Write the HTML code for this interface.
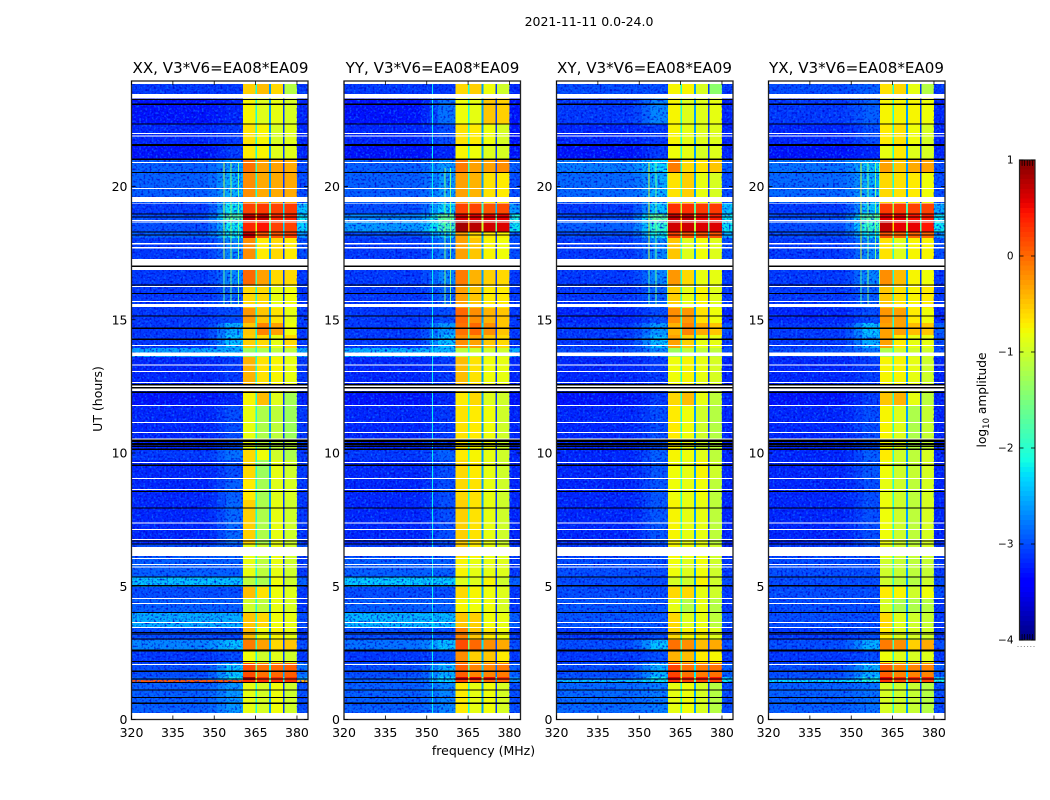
<!DOCTYPE html>
<html>
<head>
<meta charset="utf-8">
<title>2021-11-11 0.0-24.0</title>
<style>
html,body{margin:0;padding:0;background:#fff;width:1050px;height:800px;overflow:hidden}
svg{display:block}
text{font-family:"DejaVu Sans","Liberation Sans",sans-serif;fill:#000}
</style>
</head>
<body>
<svg id="figure" xmlns="http://www.w3.org/2000/svg" width="1050" height="800" viewBox="0 0 1050 800">
<defs>
<filter id="speckle-light" x="0" y="0" width="1" height="1" color-interpolation-filters="sRGB">
<feTurbulence type="fractalNoise" baseFrequency="0.48" numOctaves="1" seed="4"/>
<feColorMatrix type="matrix" values="0 0 0 0 0.05  0 0 0 0 0.45  0 0 0 0 1  3 0 0 0 -1.5"/>
</filter>
<filter id="speckle-dark" x="0" y="0" width="1" height="1" color-interpolation-filters="sRGB">
<feTurbulence type="fractalNoise" baseFrequency="0.48" numOctaves="1" seed="11"/>
<feColorMatrix type="matrix" values="0 0 0 0 0  0 0 0 0 0  0 0 0 0 0.8  3 0 0 0 -1.5"/>
</filter>
</defs>
<text x="589" y="26" font-size="12.5" text-anchor="middle">2021-11-11 0.0-24.0</text>
<text x="220.5" y="73" font-size="15.1" text-anchor="middle">XX, V3*V6=EA08*EA09</text>
<text x="432.5" y="73" font-size="15.1" text-anchor="middle">YY, V3*V6=EA08*EA09</text>
<text x="644.5" y="73" font-size="15.1" text-anchor="middle">XY, V3*V6=EA08*EA09</text>
<text x="856.5" y="73" font-size="15.1" text-anchor="middle">YX, V3*V6=EA08*EA09</text>
<text x="483.5" y="755" font-size="12.5" text-anchor="middle">frequency (MHz)</text>
<text transform="translate(102 399) rotate(-90)" font-size="12.5" text-anchor="middle">UT (hours)</text>
<text transform="translate(986 400) rotate(-90)" font-size="12.2" text-anchor="middle">log<tspan font-size="8.5" dy="3">10</tspan><tspan dy="-3"> amplitude</tspan></text>
<g id="panels"></g>
<g id="colorbar"></g>
</svg>
<script>
// Hour boundaries of the time blocks, top to bottom
const timeEdges = [23.85,23.31,22.35,21.56,21.0,20.54,19.38,18.97,18.74,18.29,18.07,16.87,16.30,15.44,14.88,14.43,13.94,13.60,12.29,11.76,10.53,10.11,9.74,8.99,8.24,6.59,6.10,5.35,4.97,4.56,4.00,3.43,2.98,2.61,2.12,1.59,1.48,1.41,0.24];

// Each row: log10 amplitude for [background, roll-on, window 1, window 2, window 3, window 4, upper edge]
const xxRows = [
[-3.1,-3.1,-.55,-.45,-.6,-1.15,-3.1],[-3.3,-3.2,-.75,-.9,-.85,-.95,-3.2],[-3.2,-3.1,-.65,-.75,-.95,-.9,-3.2],[-3.3,-3.1,-.7,-.75,-.9,-.9,-3.2],
[-2.9,-2.6,-.05,-.3,-.3,-.35,-3],[-2.9,-2.5,-.2,-.35,-.35,-.35,-3],[-3.1,-2.2,.2,.25,.2,.25,-2.4],[-3,-1.8,.7,.7,.35,.35,-2.2],
[-3,-2.2,.35,.45,.2,.2,-2.3],[-2.9,-2.2,.7,.1,.1,.2,-2.6],[-3.1,-2.7,-.2,-.7,-.6,-.7,-3],[-3.1,-2.7,0,-.3,-.6,-.6,-3.1],
[-3.1,-2.9,-.6,-.6,-.85,-.8,-3.1],[-3.1,-3,-.25,-.5,-.65,-.85,-3.1],[-3.1,-2.5,-.5,-.15,-.3,-.8,-3.1],[-3.1,-2.4,-.55,-.6,-.85,-.6,-3.1],
[-2.55,-2.5,-1.3,-1.2,-1.1,-1.1,-2.5],[-3.2,-3.1,-.4,-.65,-.75,-.85,-3.1],[-3.3,-3.2,-.75,-.45,-.9,-1.25,-3.2],[-3.2,-3,-.85,-1.2,-1.1,-1.3,-3.1],
[-3.2,-3,-.85,-1.1,-1.1,-1.1,-3.1],[-3.1,-2.8,-.6,-.8,-1,-1.2,-3.1],[-3.2,-3,-.6,-1.3,-.85,-1,-3.1],[-3.2,-2.9,-.7,-1.25,-.9,-.95,-3.1],
[-3.2,-2.85,-.55,-1.2,-.85,-1,-3.1],[-3,-2.9,-.85,-1,-.85,-1,-3],[-2.9,-2.9,-.85,-1.1,-.85,-1,-3.1],[-2.4,-2.4,-1.1,-1.2,-.8,-1,-2.9],
[-3,-3,-.45,-.65,-.8,-.9,-3.1],[-2.9,-2.9,-1,-1.1,-.85,-.95,-3.1],[-2.5,-2.5,-.5,-.6,-.8,-.85,-3],[-3,-3,-.45,-.8,-.75,-.85,-3.1],
[-2.7,-2.4,-.1,-.3,-.6,-.5,-3],[-3.1,-3,-.8,-1,-.9,-1,-3.1],[-3,-2.4,.15,-.05,0,.05,-2.8],[-2.9,-2.2,.8,.3,.3,.3,-2.5],
[.1,.1,.3,.3,.3,.3,-.4],[-2.9,-2.6,-.85,-.95,-.8,-1,-3]
];
const yyRows = [
[-3.1,-3.1,-.6,-.55,-.8,-1,-3.2],[-3.3,-2.8,-.8,-.85,-.5,-.55,-3.3],[-3.2,-3,-.65,-.7,-.8,-.95,-3.3],[-3.3,-3.2,-.75,-.8,-.9,-.95,-3.3],
[-2.9,-2.6,-.1,-.3,-.3,-.2,-2.9],[-2.9,-2.6,-.3,-.4,-.65,-.7,-3],[-3,-2.3,.2,.2,.1,.15,-2.6],[-2.7,-1.7,.6,.6,.55,.55,-2.1],
[-2.6,-1.9,.85,.75,.65,.6,-2.2],[-3,-2.4,-.3,-.6,-.7,-.75,-2.9],[-3.1,-2.8,-.3,-.5,-.75,-.8,-3],[-3.1,-2.7,-.1,-.4,-.55,-.6,-3.1],
[-3.1,-2.9,-.3,-.5,-.7,-.7,-3.1],[-3.1,-3,0,-.2,-.4,-.5,-3.1],[-3.1,-2.6,-.05,0,-.2,-.5,-3.1],[-3.1,-2.4,-.2,-.3,-.5,-.6,-3.1],
[-2.5,-2.45,-1.1,-1,-1,-1,-2.5],[-3.2,-3.1,-.45,-.65,-.8,-.85,-3.2],[-3.3,-3.2,-.7,-.6,-.9,-1,-3.3],[-3.2,-3.1,-.65,-.7,-.8,-1,-3.2],
[-3.2,-3.1,-.65,-.75,-.8,-1,-3.2],[-3.1,-2.9,-.7,-.75,-.85,-1,-3.2],[-3.2,-3,-.6,-.7,-.85,-1,-3.2],[-3.2,-3,-.6,-.65,-.85,-1,-3.2],
[-3.2,-3,-.55,-.65,-.85,-1,-3.2],[-3.1,-3,-.55,-.7,-.85,-.95,-3.1],[-2.9,-2.9,-.75,-.85,-.85,-.9,-3.1],[-2.35,-2.35,-.9,-.9,-.75,-1,-2.9],
[-3,-3,-.6,-.75,-.8,-.9,-3.1],[-2.9,-2.9,-.75,-.8,-.8,-.95,-3.1],[-2.45,-2.45,-.5,-.55,-.8,-.85,-2.9],[-3,-3,-.15,-.5,-.7,-.8,-3.1],
[-2.8,-2.4,.15,0,-.2,-.35,-3],[-3.1,-3,-.2,-.55,-.5,-.7,-3.1],[-3,-2.5,.05,-.15,-.15,-.1,-2.9],[-2.9,-2.3,.6,.55,.5,.3,-2.6],
[-2.9,-2.3,.2,.1,0,0,-2.6],[-2.9,-2.7,-.7,-.85,-.8,-.95,-3]
];
const xyRows = [
[-3,-3,-.75,-.75,-.95,-1.4,-3.1],[-3.1,-2.7,-.75,-.9,-.9,-.85,-3.2],[-3.2,-3.1,-.75,-.85,-.9,-.9,-3.2],[-3.3,-3.1,-.8,-.85,-.95,-.9,-3.2],
[-2.75,-2.3,-.1,-.6,-.65,-.5,-2.9],[-2.85,-2.5,-.65,-.55,-.85,-.95,-3],[-3.1,-2.4,.3,.3,.25,.25,-2.4],[-3,-1.7,.7,.7,.5,.4,-2.2],
[-2.9,-2,.65,.65,.6,.6,-2.2],[-3,-2.2,.2,.1,.1,.1,-2.5],[-3.1,-2.7,-.5,-.9,-.8,-.9,-3],[-3.1,-2.7,-.25,-.6,-.85,-.85,-3.1],
[-3.1,-2.9,-.55,-.85,-.75,-.9,-3.1],[-3.2,-3,-.2,-.25,-.65,-.8,-3.2],[-3.1,-2.6,-.4,-.15,-.35,-.5,-3],[-3.1,-2.4,-.3,-.55,-.85,-.85,-3.1],
[-3,-2.7,-1.3,-1.1,-1.1,-1.1,-3],[-3.2,-3.1,-.8,-.75,-.85,-.95,-3.2],[-3.3,-3.1,-.6,-.45,-.85,-1.1,-3.2],[-3.2,-3,-.7,-.8,-1,-1.15,-3.2],
[-3.2,-3,-.7,-.85,-1,-1.1,-3.2],[-3.2,-2.9,-.75,-.8,-.9,-1.1,-3.2],[-3.2,-2.95,-.8,-.85,-.75,-1,-3.2],[-3.2,-2.95,-.8,-.85,-.8,-1.1,-3.2],
[-3.2,-2.95,-.75,-.85,-.85,-1.1,-3.2],[-3.1,-3,-.75,-.8,-.85,-1,-3.2],[-3,-3,-.8,-.9,-.8,-1,-3.1],[-3,-3,-.95,-1,-.75,-1,-3],
[-3,-3,-.6,-.6,-.85,-1,-3.1],[-2.95,-2.95,-.85,-1.15,-.85,-1.15,-3.1],[-2.95,-2.95,-.6,-.9,-.85,-1.1,-3],[-3.1,-3,-.6,-.75,-.75,-.9,-3.1],
[-3,-2.4,-.05,-.2,-.45,-.35,-3],[-3.1,-3,-.4,-.45,-.7,-.75,-3.1],[-3,-2.5,.2,-.05,-.1,-.05,-2.9],[-2.9,-2.2,.6,.4,.45,.45,-2.3],
[-2.4,-2.2,.3,.2,.2,.2,-2.2],[-2.85,-2.75,-.85,-.8,-.95,-1.15,-3]
];
const yxRows = [
[-3,-2.9,-.65,-.6,-.85,-1.15,-3.1],[-3.1,-2.9,-.75,-.75,-.75,-.8,-3.2],[-3.2,-3,-.7,-.65,-.8,-.95,-3.2],[-3.3,-3.2,-.85,-.7,-.9,-.95,-3.2],
[-2.8,-2.4,-.3,-.5,-.35,-.3,-3],[-2.85,-2.5,-.6,-.65,-.7,-.8,-3],[-3.1,-2.4,.25,.25,.2,.2,-2.5],[-3,-1.8,.55,.55,.45,.4,-2.2],
[-3,-2,.7,.55,.55,.45,-2.2],[-3,-2.3,.1,0,0,0,-2.6],[-3.1,-2.7,-.65,-.9,-.75,-.75,-3],[-3.1,-2.7,-.2,-.45,-.75,-.8,-3.1],
[-3.1,-2.9,-.5,-.65,-.75,-.7,-3.1],[-3.2,-3,-.25,-.3,-.7,-.8,-3.2],[-3.1,-2.4,-.3,-.3,-.45,-.5,-2.9],[-3.1,-2.5,-.3,-.7,-.85,-.85,-3],
[-3,-2.8,-1.2,-1,-1,-1,-3],[-3.2,-3.1,-.75,-.75,-.85,-1,-3.2],[-3.3,-3.1,-.5,-.4,-.85,-1.1,-3.2],[-3.2,-3,-.75,-.9,-1.2,-1.05,-3.2],
[-3.2,-3,-.75,-.9,-1.15,-1.05,-3.2],[-3.2,-2.9,-.7,-1,-1.1,-.95,-3.2],[-3.2,-2.95,-.8,-1,-1.05,-.95,-3.2],[-3.2,-3,-.85,-1,-1.1,-.95,-3.2],
[-3.2,-3,-.8,-1,-1.1,-.95,-3.2],[-3.1,-3,-.85,-1,-1.05,-.95,-3.1],[-3,-3,-1,-1.05,-1.1,-1.05,-3.1],[-3,-3,-1,-1.1,-1.15,-1,-3],
[-3,-3,-.7,-.75,-1,-.8,-3],[-3,-3,-.95,-1.2,-1.2,-1.15,-3.1],[-3,-3,-.6,-.9,-1,-1.05,-3.1],[-3.1,-3,-.7,-.9,-.95,-1,-3.1],
[-3,-2.5,-.1,-.2,-.55,-.35,-3],[-3.1,-3,-.8,-.9,-.95,-.9,-3.1],[-3,-2.5,.05,-.15,-.15,-.15,-2.9],[-2.9,-2.2,.55,.35,.35,.4,-2.4],
[-2.3,-2.1,.3,.2,.2,.2,-2.1],[-2.9,-2.8,-.95,-1,-1.05,-1.15,-3]
];

// Frequency boundaries (MHz) of the columns in each row
const bandEdges = [320,354,360.4,365,370,375,380,384];
// Narrow channels between the spectral windows: [MHz, log10 amplitude]
const gapChannels = [[365,-2.1],[370,-2.6],[375,-3.1]];
// Time ranges (hours) with no data, drawn white
const maskedBands = [[24,23.85],[23.47,23.31],[22.0,21.97],[21.91,21.88],[20.92,20.88],[19.94,19.91],[19.61,19.41],[19.39,19.36],[18.74,18.71],[18.69,18.65],[17.88,17.83],[17.73,17.67],[17.28,17.02],[16.99,16.87],[16.27,16.23],[15.70,15.67],[15.59,15.48],[14.05,14.02],[13.77,13.64],[13.32,13.28],[13.08,13.04],[12.66,12.63],[12.53,12.47],[12.43,12.32],[11.80,11.76],[11.16,11.13],[10.79,10.75],[10.55,10.51],[9.66,9.62],[9.06,9.02],[8.65,8.61],[7.40,7.36],[7.15,7.11],[6.77,6.74],[6.48,6.14],[6.06,6.02],[5.83,5.80],[5.74,5.70],[4.56,4.52],[4.37,4.33],[3.66,3.62],[3.47,3.43],[2.08,2.04],[0.24,0]];
// Times (hours) of flagged integrations, drawn black
const flaggedTimes = [23.26,23.09,22.35,21.58,21.54,21.02,20.52,18.97,18.86,18.29,18.18,17.01,16.30,15.99,15.14,14.68,14.27,12.56,12.45,12.28,10.49,10.44,10.36,10.31,10.24,10.14,9.54,8.56,7.94,6.70,6.59,5.35,5.02,4.01,3.26,3.21,3.02,2.60,2.57,2.18,1.81,1.52,1.39,1.11,0.82,0.61];
// Narrow-band interference: [MHz, start hour, end hour, log10 amplitude]
const xxLines = [[353.3,20.9,17.28,-1.2],[355.9,20.9,17.28,-1.4],[358.6,20.9,15.48,-1.6],[353.3,16.87,15.48,-1.7],[355.9,16.87,15.48,-1.6]];
const yyLines = [[351.9,23.85,0.24,-2.2],[356.5,20.7,15.5,-1.5],[358.5,20.7,15.5,-1.5]];
const xyLines = [[353.3,20.9,17.28,-1],[355.9,20.9,17.28,-1.6],[360,20.9,15.48,-1.5],[353.3,16.87,15.48,-1.8],[355.9,16.87,15.48,-1.6]];
const yxLines = [[353.3,20.9,17.28,-1],[355.9,20.9,17.28,-1.5],[358.6,20.9,17.28,-1.5],[360,20.9,15.48,-1.4],[353.3,16.87,15.48,-1.8],[355.9,16.87,15.48,-1.5]];

// Axis ticks
const freqTicks = [320,335,350,365,380];
const hourTicks = [0,5,10,15,20];
const colorTicks = [1,0,-1,-2,-3,-4];
const colorLevels = [1,.95,.9,.85,.8,.75,.7,.65,.6,.55,.5,.45,.4,.35,.3,.25,.2,.15,.1,.05,0,-.05,-.1,-.15,-.2,-.25,-.3,-.35,-.4,-.45,-.5,-.55,-.6,-.65,-.7,-.75,-.8,-.85,-.9,-.95,-1,-1.05,-1.1,-1.15,-1.2,-1.25,-1.3,-1.35,-1.4,-1.45,-1.5,-1.55,-1.6,-1.65,-1.7,-1.75,-1.8,-1.85,-1.9,-1.95,-2,-2.05,-2.1,-2.15,-2.2,-2.25,-2.3,-2.35,-2.4,-2.45,-2.5,-2.55,-2.6,-2.65,-2.7,-2.75,-2.8,-2.85,-2.9,-2.95,-3,-3.05,-3.1,-3.15,-3.2,-3.25,-3.3,-3.35,-3.4,-3.45,-3.5,-3.55,-3.6,-3.65,-3.7,-3.75,-3.8,-3.85,-3.9,-3.95];

const NS = 'http://www.w3.org/2000/svg';
const panelSpecs = [
  {key:'xx', left:131.5, rows:xxRows, lines:xxLines},
  {key:'yy', left:344, rows:yyRows, lines:yyLines},
  {key:'xy', left:556.5, rows:xyRows, lines:xyLines},
  {key:'yx', left:768.5, rows:yxRows, lines:yxLines}
];
const panelWidth = 176.5;
const axisTop = 81;
const axisBottom = 719.5;
const FREQ_MIN = 320, FREQ_MAX = 384;

function hourY(h){ return axisBottom - h * 26.65; }
function freqX(left, f){ return left + (f - FREQ_MIN) * panelWidth / (FREQ_MAX - FREQ_MIN); }
function clamp01(v){ return Math.max(0, Math.min(1, v)); }
function jet(v){
  const t = clamp01((v + 4) / 5);
  let r, g, b;
  if (t < 0.35) r = 0; else if (t < 0.66) r = (t - 0.35) / 0.31; else if (t < 0.89) r = 1; else r = 1 - 0.5 * (t - 0.89) / 0.11;
  if (t < 0.125) g = 0; else if (t < 0.375) g = (t - 0.125) / 0.25; else if (t < 0.64) g = 1; else if (t < 0.91) g = (0.91 - t) / 0.27; else g = 0;
  if (t < 0.11) b = 0.5 + 0.5 * t / 0.11; else if (t < 0.34) b = 1; else if (t < 0.65) b = (0.65 - t) / 0.31; else b = 0;
  return 'rgb(' + Math.round(r * 255) + ',' + Math.round(g * 255) + ',' + Math.round(b * 255) + ')';
}
function make(parent, tag, attrs){
  const el = document.createElementNS(NS, tag);
  for (const k in attrs) el.setAttribute(k, attrs[k]);
  parent.appendChild(el);
  return el;
}

const panelsRoot = document.getElementById('panels');
panelSpecs.forEach(function(p){
  const g = make(panelsRoot, 'g', {});
  
  
  const right = p.left + panelWidth;
  const bg = make(g, 'rect', {x:p.left, y:axisTop, width:panelWidth, height:axisBottom-axisTop, fill:'#fff'});
  
  

  // Heatmap blocks
  p.rows.forEach(function(row, i){
    const y0 = hourY(timeEdges[i]);
    const y1 = hourY(timeEdges[i + 1]);
    row.forEach(function(value, c){
      const f0 = bandEdges[c];
      const f1 = bandEdges[c + 1];
      const x0 = freqX(p.left, f0);
      const x1 = freqX(p.left, f1);
      const cell = make(g, 'rect', {x:x0, y:y0, width:x1-x0+0.3, height:y1-y0+0.3, fill:jet(value), 'shape-rendering':'crispEdges'});
      
      
    });
    // Blend the background into the roll-on column in two steps
    const softA = make(g, 'rect', {x:freqX(p.left, 348), y:y0, width:freqX(p.left, 351)-freqX(p.left, 348), height:y1-y0+0.3, fill:jet(row[0]+0.2*(row[1]-row[0])), 'shape-rendering':'crispEdges'});
    
    
    const softB = make(g, 'rect', {x:freqX(p.left, 351), y:y0, width:freqX(p.left, 354)-freqX(p.left, 351)+0.3, height:y1-y0+0.3, fill:jet(row[0]+0.55*(row[1]-row[0])), 'shape-rendering':'crispEdges'});
    
    
    gapChannels.forEach(function(gap, k){
      const level = gap[1] + 1.6 * Math.max(0, (row[2 + k] + row[3 + k]) / 2 + 0.3);
      const gapRect = make(g, 'rect', {x:freqX(p.left, gap[0])-0.2, y:y0, width:1.6, height:y1-y0+0.3, fill:jet(level), 'shape-rendering':'crispEdges'});
      
      
    });
  });

  // Background texture
  [['speckle-light'],['speckle-dark']].forEach(function(f){
    const a = make(g, 'rect', {x:p.left, y:hourY(timeEdges[0]), width:freqX(p.left,360.4)-p.left, height:hourY(0.24)-hourY(timeEdges[0]), fill:'#000', filter:'url(#'+f[0]+')'});
    
    
    const b = make(g, 'rect', {x:freqX(p.left,380), y:hourY(timeEdges[0]), width:right-freqX(p.left,380), height:hourY(0.24)-hourY(timeEdges[0]), fill:'#000', filter:'url(#'+f[0]+')'});
    
    
  });

  // Interference lines
  p.lines.forEach(function(l){
    const line = make(g, 'rect', {x:freqX(p.left, l[0]), y:hourY(l[1]), width:1, height:hourY(l[2])-hourY(l[1]), fill:jet(l[3]), 'shape-rendering':'crispEdges'});
    
    
  });

  // Masked and flagged times
  maskedBands.forEach(function(m){
    const band = make(g, 'rect', {x:p.left, y:hourY(m[0]), width:panelWidth, height:hourY(m[1])-hourY(m[0]), fill:'#fff', 'shape-rendering':'crispEdges'});
    
    
  });
  flaggedTimes.forEach(function(h){
    const flag = make(g, 'rect', {x:p.left, y:hourY(h)-0.6, width:panelWidth, height:1.2, fill:'#000', 'shape-rendering':'crispEdges'});
    
    
  });

  // Frame
  const frame = make(g, 'rect', {x:p.left, y:axisTop, width:panelWidth, height:axisBottom-axisTop, fill:'none', stroke:'#222', 'stroke-width':1.3});
  
  

  // Frequency ticks
  freqTicks.forEach(function(f){
    const x = freqX(p.left, f);
    const t1 = make(g, 'line', {x1:x, x2:x, y1:axisBottom, y2:axisBottom-4, stroke:'#000', 'stroke-width':0.8});
    
    
    const t2 = make(g, 'line', {x1:x, x2:x, y1:axisTop, y2:axisTop+4, stroke:'#000', 'stroke-width':0.8});
    
    
    const label = make(g, 'text', {x:x, y:737, 'font-size':12.5, 'text-anchor':'middle'});
    label.textContent = String(f);
    
    
  });

  // Hour ticks
  hourTicks.forEach(function(h){
    const y = hourY(h);
    const t1 = make(g, 'line', {x1:p.left, x2:p.left+4, y1:y, y2:y, stroke:'#000', 'stroke-width':0.8});
    
    
    const t2 = make(g, 'line', {x1:right-4, x2:right, y1:y, y2:y, stroke:'#000', 'stroke-width':0.8});
    
    
    const label = make(g, 'text', {x:p.left-4, y:y+4.5, 'font-size':12.5, 'text-anchor':'end'});
    label.textContent = String(h);
    
    
  });
});

// Colorbar
const cbarRoot = document.getElementById('colorbar');
const cbarLeft = 1019.5, cbarWidth = 15.5, cbarTop = 160, cbarBottom = 640;
function colorY(v){ return cbarTop + (1 - v) * (cbarBottom - cbarTop) / 5; }
colorLevels.forEach(function(v){
  const swatch = make(cbarRoot, 'rect', {x:cbarLeft, y:colorY(v), width:cbarWidth, height:colorY(v-0.05)-colorY(v)+0.4, fill:jet(v-0.025), 'shape-rendering':'crispEdges'});
  
  
});
const cbarFrame = make(cbarRoot, 'rect', {x:cbarLeft, y:cbarTop, width:cbarWidth, height:cbarBottom-cbarTop, fill:'none', stroke:'#222', 'stroke-width':1.2});


colorTicks.forEach(function(v){
  const y = colorY(v);
  const t1 = make(cbarRoot, 'line', {x1:cbarLeft, x2:cbarLeft+4, y1:y, y2:y, stroke:'#000', 'stroke-width':0.8});
  
  
  const t2 = make(cbarRoot, 'line', {x1:cbarLeft+cbarWidth-4, x2:cbarLeft+cbarWidth, y1:y, y2:y, stroke:'#000', 'stroke-width':0.8});
  
  
  const label = make(cbarRoot, 'text', {x:1013.5, y:y+3.5, 'font-size':10.5, 'text-anchor':'end'});
  label.textContent = v < 0 ? '\u2212' + Math.abs(v) : String(v);
  
  
});
[1,2,3,4,5].forEach(function(n){
  const x = cbarLeft + n * cbarWidth / 6;
  const topTick = make(cbarRoot, 'line', {x1:x, x2:x, y1:cbarTop, y2:cbarTop+6, stroke:'#000', 'stroke-width':0.7});
  
  
  const bottomTick = make(cbarRoot, 'line', {x1:x, x2:x, y1:cbarBottom, y2:cbarBottom-6, stroke:'#000', 'stroke-width':0.7});
  
  
});
[0,1,2,3,4,5].forEach(function(n){
  const dot = make(cbarRoot, 'rect', {x:1017.5 + n * 3.2, y:646, width:1, height:1, fill:'#888'});
  
  
});
</script>
</body>
</html>
